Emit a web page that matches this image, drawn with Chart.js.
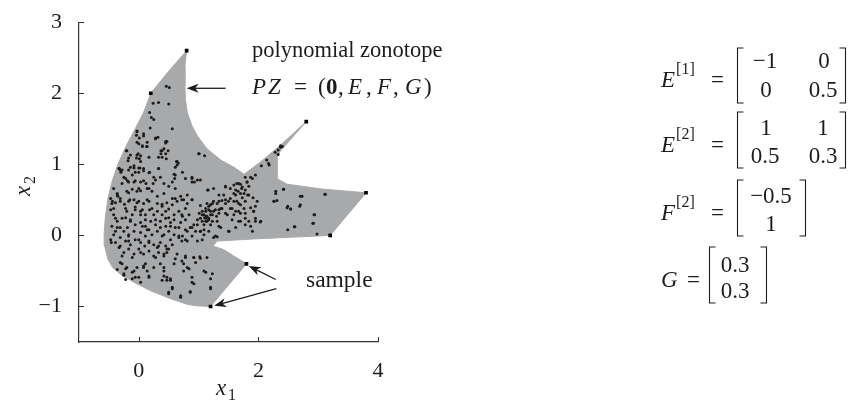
<!DOCTYPE html>
<html>
<head>
<meta charset="utf-8">
<script src="https://cdn.jsdelivr.net/npm/chart.js@4.4.0/dist/chart.umd.min.js"></script>
<style>
  html, body { margin: 0; padding: 0; background: #fff; }
  #wrap { width: 851px; height: 403px; }
</style>
</head>
<body>
<div id="wrap"><canvas id="zonoChart"></canvas></div>
<script>
// axis ticks
const xTicks = [0, 2, 4];
const yTicks = [-1, 0, 1, 2, 3];

// outline of the polynomial zonotope (clockwise from the top tip)
const shapeX = [0.80, 0.77, 0.77, 0.78, 0.81, 0.89, 0.98, 1.14, 1.37, 1.59, 1.76, 2.03, 2.37, 2.80,
  2.37, 2.31, 2.31, 2.48, 3.09, 3.80, 3.20, 2.70, 1.92, 1.31, 1.24, 1.42, 1.59, 1.80, 1.20,
  0.95, 0.81, 0.53, 0.20, -0.06, -0.30, -0.44, -0.52, -0.57, -0.58, -0.56, -0.52, -0.45, -0.35,
  -0.21, -0.06, 0.08, 0.20, 0.52, 0.80];
const shapeY = [2.60, 2.38, 2.10, 1.91, 1.73, 1.54, 1.40, 1.22, 1.06, 0.96, 0.86, 1.03, 1.27, 1.60,
  1.19, 1.10, 0.80, 0.72, 0.65, 0.60, 0.00, -0.02, -0.05, -0.08, -0.15, -0.20, -0.29, -0.40, -1.00,
  -0.99, -0.97, -0.89, -0.78, -0.67, -0.55, -0.45, -0.33, -0.15, 0.02, 0.25, 0.50, 0.75, 1.00,
  1.26, 1.50, 1.73, 2.00, 2.33, 2.60];

// sampled points that sit on the outline
const vertexPoints = [[0.8, 2.6], [0.2, 2.0], [2.8, 1.6], [3.8, 0.6], [3.2, 0.0], [1.8, -0.4], [1.2, -1.0]];

// random samples inside the set
const cloudPoints = [
  [0.46,2.1],[0.51,2.08],[0.24,1.86],[0.33,1.87],[0.5,1.85],[0.18,1.73],[0.21,1.66],[0.25,1.63],[0.56,1.5],[0.19,1.51],
  [-0.03,1.47],[-0.04,1.41],[0.08,1.4],[0.28,1.37],[0.45,1.32],[-0.2,1.19],[-0.03,1.31],[0.06,1.26],[0.13,1.25],[0.37,1.19],
  [0.42,1.22],[1.01,1.15],[1.1,1.12],[-0.14,1.13],[-0.03,1.13],[0.01,1.08],[0.17,1.1],[0.39,1.1],[0.46,1.08],[0.63,1.04],
  [0.64,0.99],[-0.33,0.94],[-0.3,0.89],[-0.08,0.98],[0.02,0.95],[0.08,0.91],[0.18,0.89],[-0.25,0.82],[-0.17,0.75],[-0.08,0.75],
  [0.12,0.73],[0.25,0.82],[0.36,0.82],[0.59,0.86],[0.6,0.8],[0.89,0.8],[0.93,0.75],[-0.36,0.59],[-0.2,0.62],[-0.11,0.65],
  [-0.03,0.62],[0.03,0.63],[0.22,0.62],[0.42,0.59],[0.61,0.66],[1.15,0.64],[-0.45,0.45],[-0.39,0.46],[-0.31,0.48],[-0.24,0.44],
  [-0.17,0.48],[-0.08,0.5],[0,0.48],[0.08,0.45],[0.17,0.48],[0.31,0.45],[0.39,0.44],[0.47,0.46],[0.56,0.43],[0.64,0.48],
  [0.72,0.5],[0.81,0.45],[0.89,0.5],[1.03,0.42],[1.14,0.45],[1.2,0.43],[1.31,0.45],[1.39,0.49],[1.45,0.69],[1.53,0.66],
  [1.59,0.71],[1.64,0.73],[1.7,0.72],[1.72,0.66],[1.81,0.75],[1.87,0.82],[1.95,0.85],[1.84,0.69],[1.76,0.59],[1.62,0.57],
  [1.53,0.52],[1.64,0.48],[1.7,0.43],[1.78,0.48],[1.87,0.39],[1.98,0.48],[2.05,0.98],[2.14,1.06],[2.18,0.99],[2.28,1.17],
  [2.33,1.2],[2.37,1.24],[2.4,1.25],[2.29,0.59],[2.26,0.48],[2.31,0.49],[2.42,0.65],[2.48,0.39],[2.54,0.37],[2.73,0.55],
  [2.7,0.43],[3.12,0.58],[2.93,0.29],[2.92,0.17],[2.98,0.02],[2.6,0.12],[2.49,0.08],[1.95,0.2],[2.03,0.19],[1.84,0.2],
  [1.7,0.2],[1.51,0.06],[1.59,0.29],[1.67,0.34],[1.78,0.31],[1.92,0.34],[1.37,0.11],[1.31,-0.02],[1.06,0.29],[1.1,0.25],
  [1.13,0.27],[1.17,0.24],[1.2,0.29],[1.14,0.2],[1.06,0.2],[1.23,0.2],[1.25,0.34],[1.12,0.34],[1.01,0.31],[0.98,0.22],
  [1.17,0.36],[1.3,0.27],[1.34,0.36],[1.09,0.15],[0.92,0.15],[0.86,0.11],[0.81,0.06],[0.95,0.06],[1.03,0.06],[0.72,0.29],
  [0.78,0.22],[0.84,0.29],[0.7,0.18],[0.61,0.11],[0.59,0.01],[0.67,-0.01],[0.53,-0.06],[0.72,-0.08],[-0.47,0.36],[-0.42,0.29],
  [-0.36,0.2],[-0.45,0.13],[-0.39,0.06],[-0.31,0.11],[-0.22,0.25],[-0.2,0.34],[-0.11,0.29],[-0.06,0.36],[0.03,0.34],[0.11,0.29],
  [0.18,0.36],[0.25,0.29],[0.31,0.34],[0.39,0.29],[0.45,0.34],[0.5,0.25],[0.59,0.29],[-0.14,0.2],[-0.06,0.15],[0.03,0.18],
  [0.11,0.13],[0.2,0.2],[0.28,0.15],[0.36,0.2],[0.45,0.13],[0.53,0.18],[-0.25,0.06],[-0.17,0.01],[-0.08,0.06],[0.03,0.04],
  [0.14,0.08],[0.22,0.01],[0.31,0.06],[0.42,0.01],[0.5,0.06],[-0.47,-0.06],[-0.39,-0.1],[-0.31,-0.03],[-0.22,-0.08],[-0.14,-0.13],
  [-0.06,-0.06],[0.03,-0.1],[0.1,-0.15],[0.17,-0.08],[0.25,-0.13],[0.31,-0.17],[0.36,-0.1],[0.45,-0.15],[0.5,-0.19],[0.56,-0.13],
  [-0.33,-0.17],[-0.25,-0.24],[-0.17,-0.19],[-0.08,-0.26],[0,-0.19],[0.08,-0.26],[0.17,-0.22],[0.25,-0.29],[0.33,-0.24],[0.42,-0.29],
  [0.47,-0.24],[0.64,-0.26],[0.72,-0.36],[0.78,-0.31],[0.92,-0.31],[1.02,-0.3],[1.14,-0.31],[-0.28,-0.4],[-0.2,-0.45],[-0.25,-0.54],
  [-0.11,-0.52],[-0.03,-0.45],[0.08,-0.43],[0.14,-0.5],[-0.06,-0.59],[0.03,-0.66],[0.17,-0.59],[0.25,-0.45],[0.36,-0.4],[0.42,-0.5],
  [0.47,-0.59],[0.53,-0.63],[0.39,-0.63],[0.56,-0.73],[0.5,-0.82],[0.7,-0.87],[0.86,-0.8],[0.89,-0.66],[0.81,-0.45],[0.75,-0.4],
  [0.95,-0.38],[1.09,-0.5],[1.23,-0.54],[1.2,-0.61],[1.2,-0.75],[-0.36,-0.48],[-0.22,-0.62],[-0.47,0.52],[-0.42,0.66],[-0.35,0.55],
  [-0.28,0.73],[-0.22,0.8],[-0.11,0.85],[-0.06,0.89],[0.03,0.75],[0.14,0.66],[0.24,0.73],[0.31,0.55],[0.5,0.69],[0.56,0.52],
  [0.7,0.55],[0.81,0.57],[1.25,0.48],[1.37,0.38],[1.45,0.45],[1.53,0.38],[1.48,0.29],[1.59,0.48],[1.66,0.62],[1.73,0.53],
  [1.82,0.57],[1.91,0.53],[1.34,0.57],[1.25,0.66],[0.81,-0.08],[0.89,-0.01],[0.98,-0.08],[1.09,0.01],[1.17,0.06],[1.25,-0.03],
  [-0.31,0.92],[-0.17,0.92],[0,0.89],[0.17,0.88],[0.33,0.94],[0.61,0.85],[-0.19,0.77],[-0.06,0.77],[0.08,0.77],[0.28,0.78],
  [0.42,0.73],[0.56,0.75],[0.73,0.89],[0.78,0.8],[-0.17,0.6],[0,0.66],[0.17,0.66],[-0.36,0.57],[0.61,0.52],[0.75,0.5],
  [-0.44,0.48],[-0.31,0.52],[-0.15,0.5],[-0.03,0.46],[0.14,0.5],[-0.42,0.38],[-0.22,0.38],[-0.06,0.4],[0.06,0.36],[0.22,0.38],
  [0.39,0.41],[0.5,0.37],[0.67,0.34],[0.78,0.38],[-0.39,0.24],[-0.28,0.24],[-0.14,0.22],[0.03,0.29],[0.11,0.22],[0.28,0.22],
  [0.45,0.24],[0.59,0.22],[0.73,0.27],[-0.36,0.11],[-0.19,0.11],[0.06,0.13],[0.17,0.08],[0.36,0.11],[0.53,0.13],[0.67,0.11],
  [0.78,0.08],[-0.42,0.01],[-0.17,-0.01],[0.11,-0.01],[0.39,-0.01],[0.73,-0.01],[-0.46,-0.1],[-0.31,-0.15],[-0.17,-0.08],[0,-0.06],
  [0.17,-0.1],[0.33,-0.15],[0.47,-0.19],[0.67,-0.03],[0.78,-0.06],[1.06,-0.06],[-0.28,-0.29],[-0.11,-0.31],[0.03,-0.24],[0.28,-0.31],
  [0.42,-0.26],[0.61,-0.33],[0.78,-0.29],[0.92,-0.31],[1.03,-0.32],[-0.31,-0.38],[-0.22,-0.47],[-0.08,-0.5],[0.08,-0.45],[0.11,-0.4],
  [0.42,-0.45],[0.59,-0.4],[0.75,-0.5],[0.84,-0.47],[1.12,-0.52],[-0.25,-0.56],[-0.11,-0.61],[0,-0.59],[0.17,-0.57],[0.42,-0.57],
  [0.47,-0.63],[0.53,-0.61],[0.89,-0.59],[0.92,-0.68],[0.56,-0.75],[0.86,-0.79],[1.2,-0.73],[0.7,-0.85],[0.5,-0.8],
  [1.0,1.15],[0.89,0.82],[0.89,0.75],[0.98,0.78],[1.03,0.78],[1.16,0.64],[1.45,0.68],[1.67,0.73],[1.81,0.75],[1.9,0.8],
  [1.78,0.82],[1.73,0.68],[1.62,0.64],[1.59,0.59],[1.7,0.59],[1.78,0.64],[1.84,0.57],[1.42,0.57],[1.45,0.5],[1.5,0.48],
  [1.67,0.45],[1.76,0.38],[1.95,0.41],[1.92,0.34],[1.34,0.48],[1.23,0.45],[0.89,0.5],[1.17,0.41],[1.12,0.38],[1.2,0.34],
  [1.28,0.36],[1.39,0.38],[1.34,0.31],[1.45,0.31],[1.56,0.38],[1.62,0.34],[1.7,0.31],[1.78,0.24],[1.95,0.24],[2.04,0.2],
  [1.67,0.2],[1.56,0.22],[1.78,0.15],[1.87,0.13],[1.62,0.11],[1.5,0.06],[1.31,0.2],[1.34,0.13],[1.2,0.15],[1.12,0.24],
  [1.03,0.24],[0.98,0.15],[0.89,0.11],[1.03,0.06],[1.09,0.08],[1.28,-0.01],[1.9,0.06],[2.29,0.62],[2.26,0.48],[2.17,1.01],
  [1.09,0.29],[1.14,0.27],[1.17,0.22],[1.12,0.2],[1.06,0.34],[1.23,0.29],[2.37,1.26],[2.33,1.14],[2.42,0.65],[2.7,0.55],
  [3.11,0.58],[2.49,0.41],[2.54,0.37],[2.69,0.41],[2.94,0.29],[2.91,0.17],[2.61,0.12],
  [-0.03,1.46],[0.08,1.43],[0.01,1.37],[0,1.29],[0.14,1.31],[0.28,1.36],[0.32,1.38],[0.45,1.3],[0.47,1.32],[0.06,1.25],
  [0.14,1.25],[-0.21,1.19],[-0.01,1.15],[0.03,1.12],[0.39,1.19],[0.49,1.19],[0.37,1.15],[0.45,1.15],[-0.17,1.09],[-0.18,1.05],
  [-0.04,1.09],[0.03,1.04],[0.33,1.1],[0.64,1.04],[0.66,1.02],[-0.33,0.94],[-0.28,0.92],[-0.14,0.96],[-0.08,0.95],[0,0.95],
  [0.08,0.94],[0.33,0.94],[0.61,0.96]
];

const pen = '#1c1c1c';
const serif = "'Liberation Serif', 'DejaVu Serif', serif";

function drawArrow(ctx, x0, y0, x1, y1) {
  const ang = Math.atan2(y1 - y0, x1 - x0);
  const len = 12, half = 4.5;
  ctx.beginPath();
  ctx.moveTo(x0, y0);
  ctx.lineTo(x1 - Math.cos(ang) * 8, y1 - Math.sin(ang) * 8);
  ctx.stroke();
  ctx.save();
  ctx.translate(x1, y1);
  ctx.rotate(ang);
  ctx.beginPath();
  ctx.moveTo(0, 0);
  ctx.lineTo(-len, -half);
  ctx.lineTo(-len + 3.5, 0);
  ctx.lineTo(-len, half);
  ctx.closePath();
  ctx.fill();
  ctx.restore();
}

function brackets(ctx, l, r, top, bot) {
  ctx.beginPath();
  ctx.moveTo(l + 6, top); ctx.lineTo(l, top); ctx.lineTo(l, bot); ctx.lineTo(l + 6, bot);
  ctx.moveTo(r - 6, top); ctx.lineTo(r, top); ctx.lineTo(r, bot); ctx.lineTo(r - 6, bot);
  ctx.stroke();
}

function matrixLabel(ctx, letter, sup, base, eqX) {
  ctx.textAlign = 'left';
  ctx.font = 'italic 23px ' + serif;
  ctx.fillText(letter, 661, base);
  const w = ctx.measureText(letter).width;
  if (sup) {
    ctx.font = '16px ' + serif;
    ctx.fillText(sup, 661 + w + 1, base - 13);
  }
  ctx.font = '23px ' + serif;
  ctx.fillText('=', eqX, base);
  ctx.textAlign = 'center';
}

const annotations = {
  id: 'annotations',
  afterDraw(chart) {
    const { ctx, chartArea: a, scales: { x, y } } = chart;
    ctx.save();
    ctx.strokeStyle = '#333';
    ctx.fillStyle = pen;
    ctx.lineWidth = 1;

    // inward tick marks
    ctx.beginPath();
    xTicks.forEach(v => {
      const p = Math.round(x.getPixelForValue(v)) + 0.5;
      ctx.moveTo(p, a.bottom); ctx.lineTo(p, a.bottom - 5);
    });
    yTicks.forEach(v => {
      const p = Math.round(y.getPixelForValue(v)) + 0.5;
      ctx.moveTo(a.left, p); ctx.lineTo(a.left + 5, p);
    });
    ctx.stroke();

    // arrows
    ctx.strokeStyle = pen;
    ctx.lineWidth = 1.3;
    drawArrow(ctx, x.getPixelForValue(1.45), y.getPixelForValue(2.07), x.getPixelForValue(0.80), y.getPixelForValue(2.07));
    drawArrow(ctx, x.getPixelForValue(2.29), y.getPixelForValue(-0.62), x.getPixelForValue(1.84), y.getPixelForValue(-0.43));
    drawArrow(ctx, x.getPixelForValue(2.30), y.getPixelForValue(-0.75), x.getPixelForValue(1.26), y.getPixelForValue(-0.99));

    // annotation texts
    ctx.textBaseline = 'alphabetic';
    ctx.textAlign = 'left';
    ctx.font = '22.5px ' + serif;
    ctx.fillText('polynomial zonotope', 252, 57);
    ctx.font = '23.5px ' + serif;
    ctx.fillText('sample', 306, 287);

    const parts = [
      ['italic 23px', 'P', 252], ['italic 23px', 'Z', 268], ['23px', '=', 294], ['23px', '(', 318],
      ['bold 23px', '0', 326], ['23px', ',', 338], ['italic 23px', 'E', 348], ['23px', ',', 366],
      ['italic 23px', 'F', 377], ['23px', ',', 393], ['italic 23px', 'G', 405], ['23px', ')', 424]
    ];
    parts.forEach(([f, t, px]) => {
      ctx.font = f + ' ' + serif;
      ctx.fillText(t, px, 94);
    });

    // axis titles
    ctx.font = 'italic 23px ' + serif;
    ctx.fillText('x', 216, 395);
    ctx.font = '16px ' + serif;
    ctx.fillText('1', 228, 400);
    ctx.save();
    ctx.translate(30, 196);
    ctx.rotate(-Math.PI / 2);
    ctx.font = 'italic 23px ' + serif;
    ctx.fillText('x', 0, 0);
    ctx.font = '16px ' + serif;
    ctx.fillText('2', 12, 5);
    ctx.restore();

    // parameter matrices
    ctx.lineWidth = 1.1;
    matrixLabel(ctx, 'E', '[1]', 87, 711);
    brackets(ctx, 737.5, 845.5, 48, 103);
    ctx.fillText('\u22121', 765, 68); ctx.fillText('0', 824, 68);
    ctx.fillText('0', 766, 97); ctx.fillText('0.5', 823, 97);

    matrixLabel(ctx, 'E', '[2]', 152, 711);
    brackets(ctx, 737.5, 845.5, 112, 168);
    ctx.fillText('1', 766, 135); ctx.fillText('1', 823, 135);
    ctx.fillText('0.5', 765, 163); ctx.fillText('0.3', 823, 163);

    matrixLabel(ctx, 'F', '[2]', 220, 711);
    brackets(ctx, 737.5, 805.5, 180, 236);
    ctx.fillText('\u22120.5', 771, 203);
    ctx.fillText('1', 771, 231);

    matrixLabel(ctx, 'G', '', 287, 687);
    brackets(ctx, 709.5, 766.5, 247, 303);
    ctx.fillText('0.3', 735, 272);
    ctx.fillText('0.3', 735, 298);

    ctx.restore();
  }
};

new Chart(document.getElementById('zonoChart').getContext('2d'), {
  type: 'scatter',
  data: {
    datasets: [{
      label: 'polynomial zonotope',
      data: shapeX.map((v, i) => ({ x: v, y: shapeY[i] })),
      showLine: true,
      fill: 'shape',
      backgroundColor: '#a8a9ab',
      borderColor: '#a8a9ab',
      borderWidth: 1,
      pointRadius: 0,
      tension: 0,
      order: 3
    }, {
      label: 'samples',
      data: cloudPoints.map(p => ({ x: p[0], y: p[1] })),
      backgroundColor: pen,
      borderWidth: 0,
      pointRadius: 1.5,
      order: 2
    }, {
      label: 'extreme samples',
      data: vertexPoints.map(p => ({ x: p[0], y: p[1] })),
      backgroundColor: '#000',
      borderWidth: 0,
      pointStyle: 'rect',
      pointRadius: 2.6,
      order: 1
    }]
  },
  options: {
    responsive: true,
    maintainAspectRatio: false,
    animation: false,
    layout: { padding: { top: 18, right: 473, bottom: 0, left: 0 } },
    plugins: {
      legend: { display: false },
      tooltip: { enabled: false }
    },
    scales: {
      x: {
        type: 'linear',
        min: -1, max: 4,
        grid: { display: false },
        border: { display: true, color: '#333', width: 1.2 },
        ticks: { color: pen, padding: 8, font: { family: serif, size: 22 } },
        afterBuildTicks: s => { s.ticks = xTicks.map(v => ({ value: v })); },
        afterFit: s => { s.height = 61; }
      },
      y: {
        type: 'linear',
        min: -1.5, max: 3,
        grid: { display: false },
        border: { display: true, color: '#333', width: 1.2 },
        ticks: { color: pen, padding: 9, font: { family: serif, size: 22 },
          callback: v => (v < 0 ? '\u2212' + Math.abs(v) : String(v)) },
        afterBuildTicks: s => { s.ticks = yTicks.map(v => ({ value: v })); },
        afterFit: s => { s.width = 79; }
      }
    }
  },
  plugins: [annotations]
});
</script>
</body>
</html>
